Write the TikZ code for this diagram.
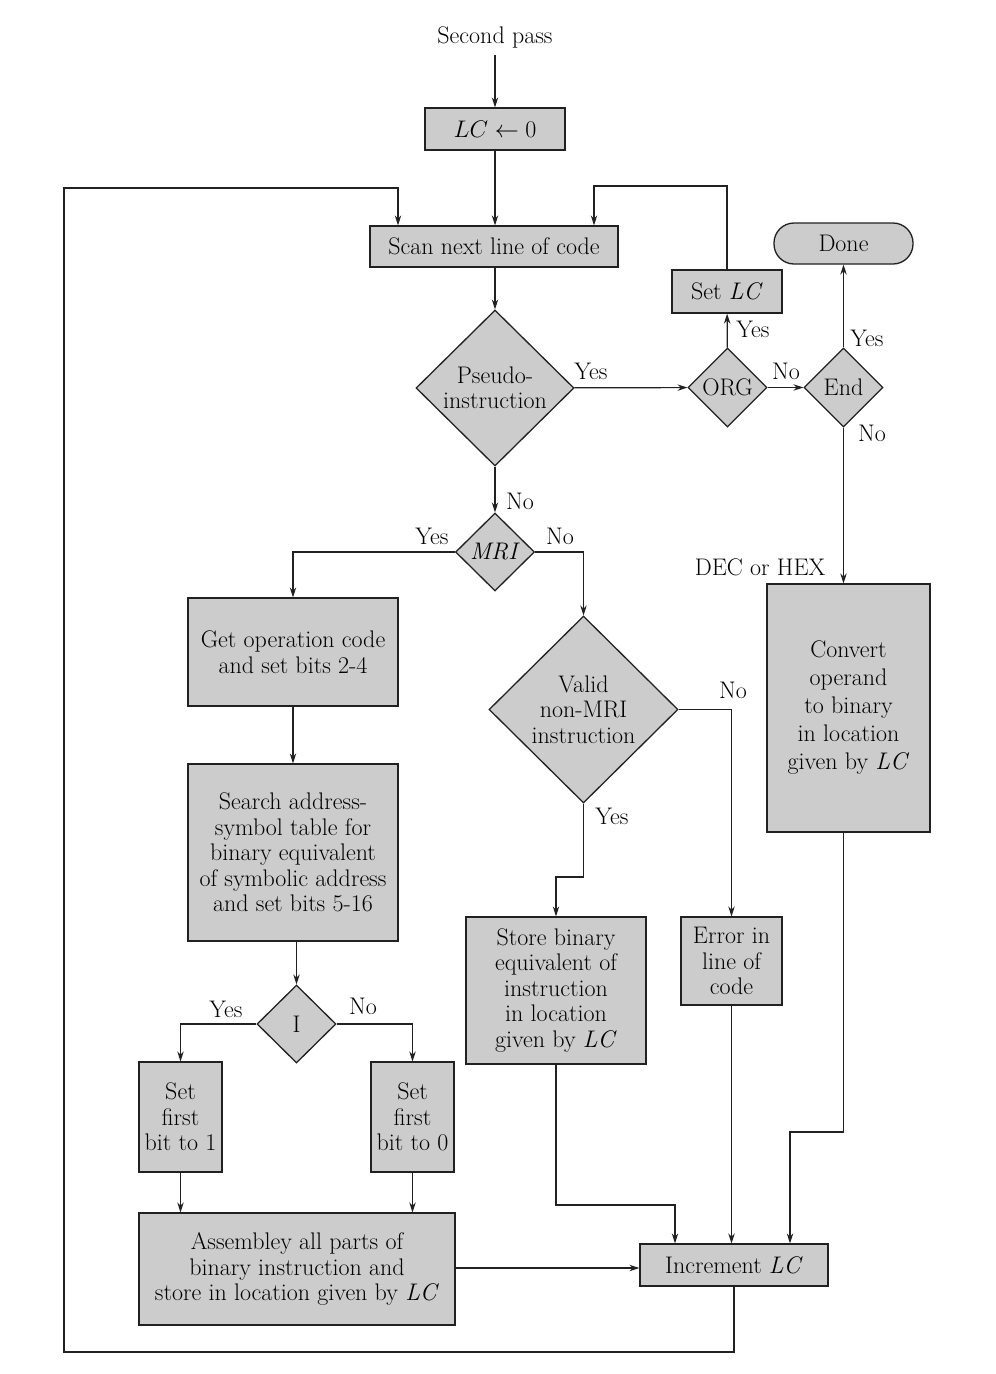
\RequirePackage{fix-cm}
\documentclass[tikz,border=0pt]{standalone}
\usetikzlibrary{shapes.geometric,arrows.meta}
\definecolor{boxfill}{gray}{0.80}
\definecolor{inkc}{gray}{0.13}
\tikzset{
  box/.style 2 args={draw=inkc, fill=boxfill, line width=1.3pt, align=center, inner sep=0pt,
    minimum width=#1, minimum height=#2},
  dia/.style 2 args={diamond, draw=inkc, fill=boxfill, line width=1.3pt, align=center, inner sep=0pt,
    minimum width=#1, minimum height=#2},
  arr/.style={draw=inkc, line width=1.2pt, -{Stealth[length=10pt,width=6.5pt]}},
  lbl/.style={inner sep=0pt},
}
\begin{document}
\begin{tikzpicture}[x=1pt,y=-1pt,font=\fontsize{24}{25.5}\selectfont]
\useasboundingbox (0,0) rectangle (996,1374);

% nodes
\node[lbl] (start) at (495,37) {Second pass};
\node[box={140pt}{42pt}] (lc) at (495,129) {$LC\leftarrow 0$};
\node[box={248pt}{41pt}] (scan) at (494,246.5) {Scan next line of code};
\node[box={110pt}{43pt}] (setlc) at (727,291.5) {Set \textit{LC}};
\node[box={139pt}{41pt}, rounded corners=20pt] (done) at (843.5,243.5) {Done};
\node[dia={158pt}{156pt}] (pseudo) at (495,388) {Pseudo-\\instruction};
\node[dia={79pt}{79pt}] (org) at (727.5,387.5) {ORG};
\node[dia={79pt}{79pt}] (end) at (843.5,387.5) {End};
\node[dia={79pt}{78pt}] (mri) at (495,552) {\textit{MRI}};
\node[box={210pt}{108pt}] (getop) at (293,652) {Get operation code\\and set bits 2-4};
\node[box={210pt}{177pt}] (search) at (293,852.5) {Search address-\\symbol table for\\binary equivalent\\of symbolic address\\and set bits 5-16};
\node[dia={189pt}{187pt}] (valid) at (583.5,709.5) {Valid\\non-MRI\\instruction};
\node[box={163pt}{248pt}, font=\fontsize{24}{28}\selectfont] (convert) at (848.5,708) {Convert\\operand\\to binary\\in location\\given by \textit{LC}};
\node[box={180pt}{147pt}] (store) at (556,990.5) {Store binary\\equivalent of\\instruction\\in location\\given by \textit{LC}};
\node[box={101pt}{88pt}] (error) at (731.5,961) {Error in\\line of\\code};
\node[dia={79pt}{78pt}] (idia) at (296.5,1024) {I};
\node[box={83pt}{110pt}] (set1) at (180.5,1117) {Set\\first\\bit to 1};
\node[box={83pt}{110pt}] (set0) at (412.5,1117) {Set\\first\\bit to 0};
\node[box={316pt}{112pt}] (asm) at (297,1269) {Assembley all parts of\\binary instruction and\\store in location given by \textit{LC}};
\node[box={188pt}{42pt}] (inc) at (734,1265) {Increment \textit{LC}};

% helper coordinates
\coordinate (r1) at (727,186);
\coordinate (r2) at (594,186);
\coordinate (c1) at (790,1132);
\coordinate (v1) at (583.5,877);
\coordinate (s1) at (675,1205);
\coordinate (l1) at (64,1352);
\coordinate (l2) at (398,188);

% connectors
\draw[arr] (start.south) ++(0,7) -- (lc.north);
\draw[arr] (lc.south) -- (lc.south |- scan.north);
\draw[arr] (scan.south -| pseudo.north) -- (pseudo.north);
\draw[arr] (pseudo) -- (org);
\draw[arr] (org) -- (setlc);
\draw[arr] (setlc.north) -- (r1) -- (r2) -- (r2 |- scan.north);
\draw[arr] (org) -- (end);
\draw[arr] (end) -- (done);
\draw[arr] (end.south) -- (end.south |- convert.north);
\draw[arr] (end.south |- convert.south) |- (c1) -- (c1 |- inc.north);
\draw[arr] (pseudo) -- (mri);
\draw[arr] (mri.west) -| (getop.north);
\draw[arr] (mri.east) -| (valid.north);
\draw[arr] (getop) -- (search);
\draw[arr] (search.south -| idia.north) -- (idia.north);
\draw[arr] (idia.west) -| (set1.north);
\draw[arr] (idia.east) -| (set0.north);
\draw[arr] (set1.south) -- (set1.south |- asm.north);
\draw[arr] (set0.south) -- (set0.south |- asm.north);
\draw[arr] (asm.east |- 0,1268) -- (inc.west |- 0,1268);
\draw[arr] (valid.east) -| (error.north);
\draw[arr] (valid.south) -- (v1) -| (store.north);
\draw[arr] (store.south) |- (s1) -- (s1 |- inc.north);
\draw[arr] (error.south) -- (error.south |- inc.north);
\draw[arr] (inc.south) |- (l1) |- (l2) -- (l2 |- scan.north);

% labels
\node[lbl] (y1) at (591,371) {Yes};
\node[lbl] (y2) at (753,329) {Yes};
\node[lbl] (n1) at (786,371) {No};
\node[lbl] (y3) at (867,338) {Yes};
\node[lbl] (n2) at (872,433) {No};
\node[lbl] (dh) at (760,567) {DEC or HEX};
\node[lbl] (n3) at (520,501) {No};
\node[lbl] (y4) at (432,536) {Yes};
\node[lbl] (n4) at (560,536) {No};
\node[lbl] (n5) at (733,690) {No};
\node[lbl] (y5) at (612,816) {Yes};
\node[lbl] (y6) at (226,1009) {Yes};
\node[lbl] (n6) at (363,1006) {No};
\end{tikzpicture}
\end{document}
